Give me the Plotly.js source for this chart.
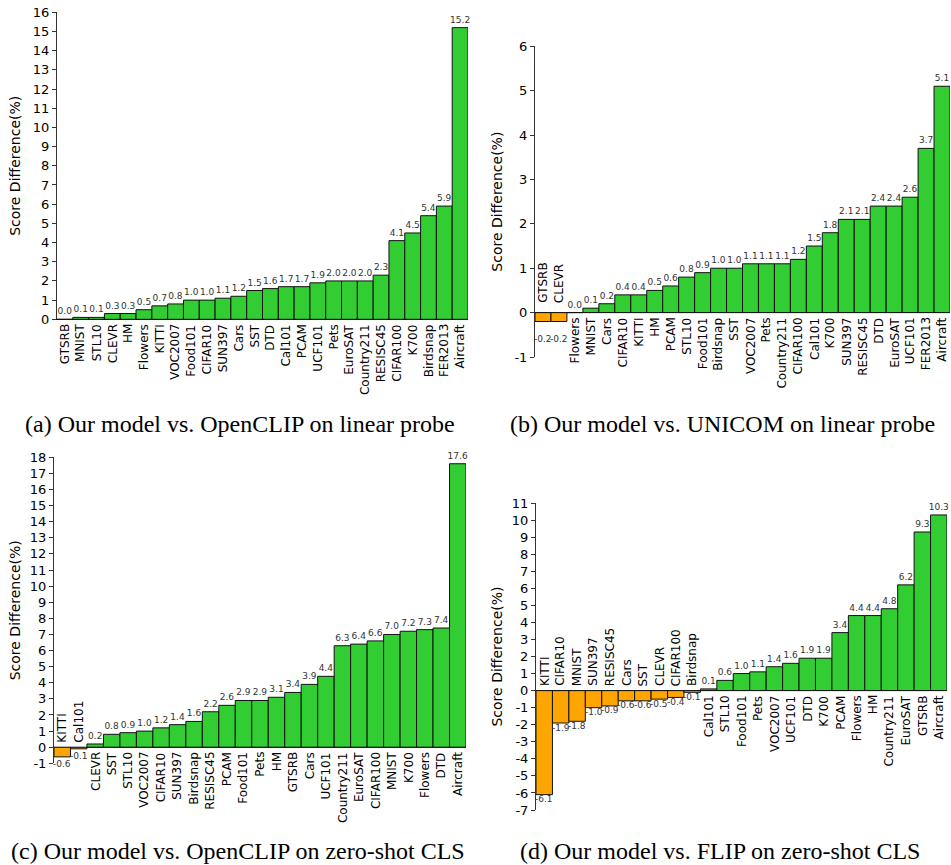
<!DOCTYPE html>
<html>
<head>
<meta charset="utf-8">
<script src="https://cdn.plot.ly/plotly-3.0.1.min.js"></script>
<style>
html,body{margin:0;padding:0;background:#fff;}
#chart{width:951px;height:865px;}
</style>
</head>
<body>
<div id="chart"></div>
<script>
// ---- Data ----
const catsA = ["GTSRB","MNIST","STL10","CLEVR","HM","Flowers","KITTI","VOC2007","Food101","CIFAR10","SUN397","Cars","SST","DTD","Cal101","PCAM","UCF101","Pets","EuroSAT","Country211","RESISC45","CIFAR100","K700","Birdsnap","FER2013","Aircraft"];
const valsA = [0.0,0.1,0.1,0.3,0.3,0.5,0.7,0.8,1.0,1.0,1.1,1.2,1.5,1.6,1.7,1.7,1.9,2.0,2.0,2.0,2.3,4.1,4.5,5.4,5.9,15.2];

const catsB = ["GTSRB","CLEVR","Flowers","MNIST","Cars","CIFAR10","KITTI","HM","PCAM","STL10","Food101","Birdsnap","SST","VOC2007","Pets","Country211","CIFAR100","Cal101","K700","SUN397","RESISC45","DTD","EuroSAT","UCF101","FER2013","Aircraft"];
const valsB = [-0.2,-0.2,0.0,0.1,0.2,0.4,0.4,0.5,0.6,0.8,0.9,1.0,1.0,1.1,1.1,1.1,1.2,1.5,1.8,2.1,2.1,2.4,2.4,2.6,3.7,5.1];

const catsC = ["KITTI","Cal101","CLEVR","SST","STL10","VOC2007","CIFAR10","SUN397","Birdsnap","RESISC45","PCAM","Food101","Pets","HM","GTSRB","Cars","UCF101","Country211","EuroSAT","CIFAR100","MNIST","K700","Flowers","DTD","Aircraft"];
const valsC = [-0.6,-0.1,0.2,0.8,0.9,1.0,1.2,1.4,1.6,2.2,2.6,2.9,2.9,3.1,3.4,3.9,4.4,6.3,6.4,6.6,7.0,7.2,7.3,7.4,17.6];

const catsD = ["KITTI","CIFAR10","MNIST","SUN397","RESISC45","Cars","SST","CLEVR","CIFAR100","Birdsnap","Cal101","STL10","Food101","Pets","VOC2007","UCF101","DTD","K700","PCAM","Flowers","HM","Country211","EuroSAT","GTSRB","Aircraft"];
const valsD = [-6.1,-1.9,-1.8,-1.0,-0.9,-0.6,-0.6,-0.5,-0.4,-0.1,0.1,0.6,1.0,1.1,1.4,1.6,1.9,1.9,3.4,4.4,4.4,4.8,6.2,9.3,10.3];

const captions = [
  "(a) Our model vs. OpenCLIP on linear probe",
  "(b) Our model vs. UNICOM on linear probe",
  "(c) Our model vs. OpenCLIP on zero-shot CLS",
  "(d) Our model vs. FLIP on zero-shot CLS"
];
const yTitle = "Score Difference(%)";

// ---- Styling / layout ----
const W = 951, H = 865;
const GREEN = "#32CD32", ORANGE = "#FFA500";
const FONT = "DejaVu Sans";

const panels = [
  {cats: catsA, vals: valsA, yr: [0,16], px: [57,468], py: [12.3,319.3], cap: [240,424], so: 8, negShift: -4},
  {cats: catsB, vals: valsB, yr: [-1,6], px: [535,950], py: [46.3,357], cap: [722,424], so: 8, negShift: -12},
  {cats: catsC, vals: valsC, yr: [-1,18], px: [54,466], py: [457.3,763.3], cap: [238,851], so: 5, negShift: -1},
  {cats: catsD, vals: valsD, yr: [-7,11], px: [536,947], py: [503,810], cap: [720,851], so: 5, negShift: 1.5}
];

const data = [];
const layout = {
  width: W, height: H,
  margin: {l:0, r:0, t:0, b:0},
  paper_bgcolor: "#fff", plot_bgcolor: "#fff",
  showlegend: false,
  bargap: 0,
  font: {family: FONT, color: "#000"},
  annotations: []
};

panels.forEach((p, i) => {
  const n = i + 1;
  const xk = n === 1 ? "x" : "x" + n;
  const yk = n === 1 ? "y" : "y" + n;
  const tv = [];
  for (let v = p.yr[0]; v <= p.yr[1]; v++) tv.push(v);
  data.push({
    type: "bar",
    x: p.cats, y: p.vals,
    xaxis: xk, yaxis: yk,
    marker: {color: p.vals.map(v => v < 0 ? ORANGE : GREEN), line: {color: "#111", width: 1}},
    width: 1,
    text: p.vals.map(v => v < 0 ? "" : v.toFixed(1)),
    textposition: "outside",
    constraintext: "none",
    cliponaxis: false,
    textfont: {family: FONT, size: 9, color: "#333"},
    hoverinfo: "skip"
  });
  layout["xaxis" + (n === 1 ? "" : n)] = {
    domain: [p.px[0]/W, p.px[1]/W],
    anchor: yk,
    type: "category",
    range: [-0.5, p.cats.length - 0.5],
    showticklabels: false, ticks: "", showgrid: false, zeroline: false,
    showline: n === 1, linecolor: "#111", linewidth: 1,
    fixedrange: true
  };
  layout["yaxis" + (n === 1 ? "" : n)] = {
    domain: [1 - p.py[1]/H, 1 - p.py[0]/H],
    anchor: xk,
    range: p.yr,
    tickmode: "array", tickvals: tv, ticktext: tv.map(v => String(v)),
    ticks: "outside", ticklen: 4, tickcolor: "#333", tickwidth: 1,
    showline: true, linecolor: "#333", linewidth: 1,
    showgrid: false,
    zeroline: true, zerolinecolor: "#111", zerolinewidth: 1,
    tickfont: {family: FONT, size: 13, color: "#000"},
    title: {text: yTitle, font: {family: FONT, size: 14, color: "#000"}, standoff: p.so},
    fixedrange: true
  };
  p.cats.forEach((c, j) => {
    const v = p.vals[j];
    const neg = v < 0;
    // category label
    layout.annotations.push({
      xref: xk, yref: yk, x: c, y: neg ? 0.2 : 0,
      text: c, showarrow: false, textangle: -90,
      xanchor: "center", yanchor: neg ? "bottom" : "top",
      yshift: neg ? 0 : -4,
      font: {family: FONT, size: 12, color: "#000"},
      borderpad: 0
    });
    // value label for negative bars (below the bar)
    if (neg) {
      layout.annotations.push({
        xref: xk, yref: yk, x: c, y: v,
        text: v.toFixed(1), showarrow: false,
        xanchor: "center", yanchor: "top", yshift: p.negShift,
        font: {family: FONT, size: 9, color: "#333"},
        borderpad: 0
      });
    }
  });
  layout.annotations.push({
    xref: "paper", yref: "paper",
    x: p.cap[0]/W, y: 1 - p.cap[1]/H,
    xanchor: "center", yanchor: "middle",
    text: captions[i], showarrow: false,
    font: {family: "Liberation Serif", size: 24, color: "#000"}
  });
});

Plotly.newPlot("chart", data, layout, {staticPlot: true});
</script>
</body>
</html>
